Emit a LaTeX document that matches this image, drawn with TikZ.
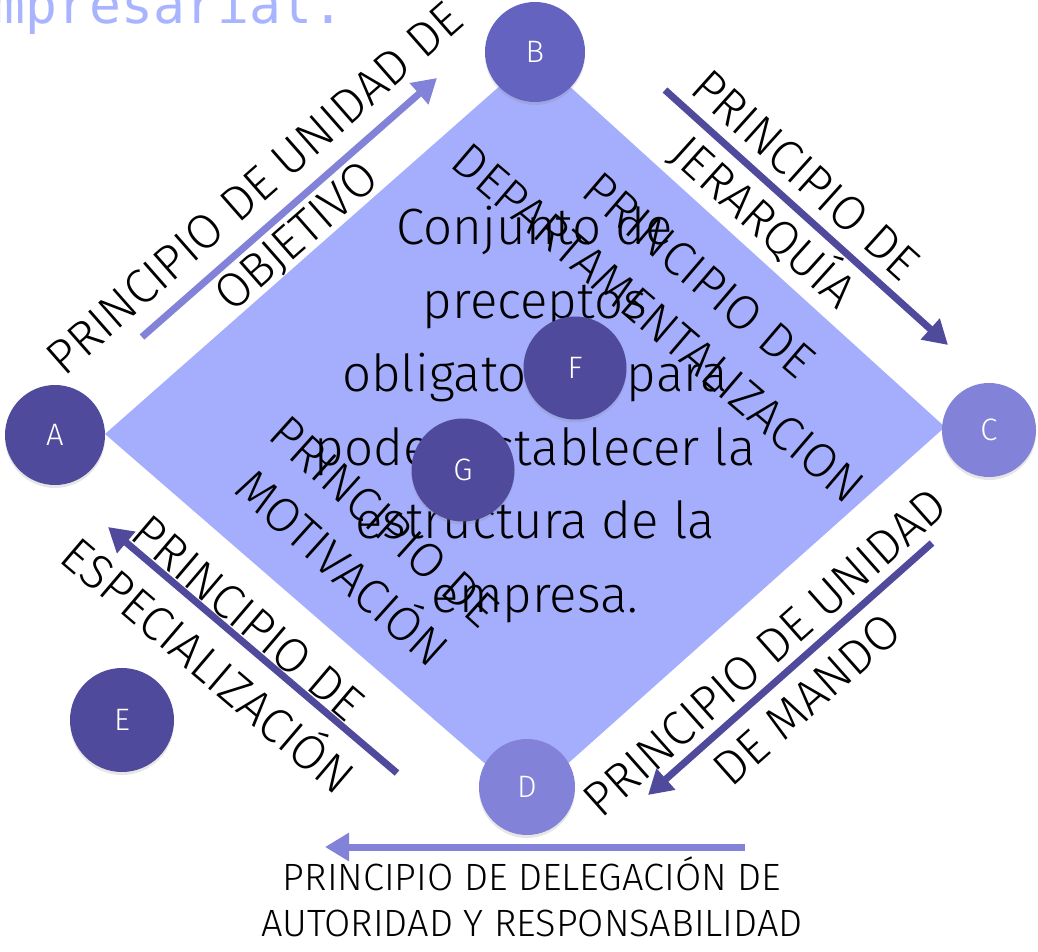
\documentclass[tikz,border=0pt]{standalone}
\usepackage{fontspec}
\setmainfont{Fira Sans Light}
\newfontfamily\titlefont{DejaVu Sans Mono}
\usetikzlibrary{arrows.meta,shadows}
\definecolor{rombo}{HTML}{A4AEFC}
\definecolor{oscuro}{HTML}{4F4A9C}
\definecolor{medio}{HTML}{6464C0}
\definecolor{claro}{HTML}{8283D8}
\definecolor{titulo}{HTML}{A9B4FF}

\begin{document}
\begin{tikzpicture}[x=1pt,y=-1pt,line cap=butt,
	flecha/.style={line width=7pt,-{Triangle[length=24pt,width=27pt]}},
	circulo/.style={circle,minimum size=100pt,inner sep=0pt,text=white,
		font=\fontsize{31}{36}\selectfont,
		drop shadow={shadow xshift=0pt,shadow yshift=-3pt,opacity=.2}},
	etiqueta/.style={align=center,inner sep=0pt,font=\fontsize{48.5}{63}\selectfont}]
			\useasboundingbox (0,0) rectangle (1038,952);
			\clip (0,0) rectangle (1038,952);
			\node[anchor=base east,inner sep=0pt,text=titulo,font=\titlefont\fontsize{53}{60}\selectfont] (titulo) at (345,24) {Empresarial.};
			\fill[rombo] (105,434) -- (535,55) -- (945,427) -- (527,800) -- cycle;
			\coordinate (o1) at (142,337);
			\coordinate (o2) at (437,78);
			\coordinate (j1) at (665,90);
			\coordinate (j2) at (948,345);
			\coordinate (m1) at (932,543);
			\coordinate (m2) at (648,795);
			\coordinate (e1) at (397,773);
			\coordinate (e2) at (108,527);
			\coordinate (d1) at (745,847);
			\coordinate (d2) at (325,847);
			\draw[flecha,claro] (o1) -- (o2);
			\draw[flecha,oscuro] (j1) -- (j2);
			\draw[flecha,oscuro] (m1) -- (m2);
			\draw[flecha,oscuro] (e1) -- (e2);
			\draw[flecha,claro] (d1) -- (d2);
			\node[align=center,inner sep=0pt,anchor=north,font=\fontsize{51}{73.5}\selectfont] (centro) at (535,206)
				{Conjunto de\\preceptos\\obligatorios para\\poder establecer la\\estructura de la\\empresa.};
			\node[etiqueta,rotate=41.3] (objetivo) at (277,214) {PRINCIPIO DE UNIDAD DE\\OBJETIVO};
			\node[etiqueta,rotate=-42] (jerarquia) at (783,200) {PRINCIPIO DE\\JERARQUÍA};
			\node[etiqueta,rotate=-40.5] (departamentos) at (679,299) {PRINCIPIO DE\\DEPARTAMENTALIZACION};
			\node[etiqueta,rotate=41.6] (mando) at (786,676) {PRINCIPIO DE UNIDAD\\DE MANDO};
			\node[etiqueta,rotate=-40.4] (especializacion) at (228,642) {PRINCIPIO DE\\ESPECIALIZACIÓN};
			\node[etiqueta,rotate=-42] (motivacion) at (363,545) {PRINCIPIO DE\\MOTIVACIÓN};
			\node[etiqueta,font=\fontsize{38}{46}\selectfont] (delegacion) at (532,897) {PRINCIPIO DE DELEGACIÓN DE\\AUTORIDAD Y RESPONSABILIDAD};
			\node[circulo,fill=oscuro] (A) at (55,435) {A};
			\node[circulo,fill=medio] (B) at (535,52) {B};
			\node[circulo,fill=claro,minimum size=94pt] (C) at (989,430) {C};
			\node[circulo,fill=claro,minimum size=96pt] (D) at (527,787) {D};
			\node[circulo,fill=oscuro,minimum size=104pt] (E) at (122,720) {E};
			\node[circulo,fill=oscuro,minimum size=103pt] (F) at (575,368) {F};
			\node[circulo,fill=oscuro,minimum size=103pt] (G) at (463,470) {G};
		\end{tikzpicture}
\end{document}
